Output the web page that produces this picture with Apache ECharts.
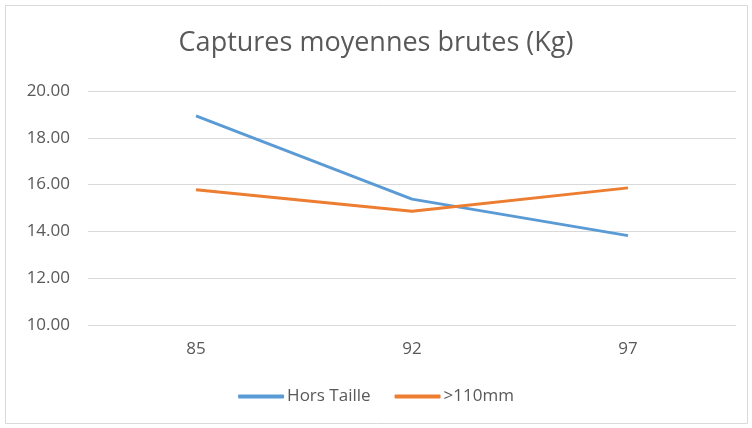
<!DOCTYPE html>
<html>
<head>
<meta charset="utf-8">
<script src="https://cdn.jsdelivr.net/npm/echarts@6/dist/echarts.min.js"></script>
<style>
  html, body { margin: 0; padding: 0; background: #fff; }
  #main { width: 752px; height: 428px; }
</style>
</head>
<body>
<div id="main"></div>
<script>
// données
const categories = ['85', '92', '97'];
const horsTaille = [18.94, 15.38, 13.82];
const plus110 = [15.78, 14.86, 15.86];

let myChart = echarts.init(document.getElementById('main'));
let option = {
  backgroundColor: '#fff',
  textStyle: { fontFamily: 'Open Sans' },
  title: {
    text: 'Captures moyennes brutes (Kg)',
    left: 'center',
    top: 25,
    textStyle: { fontSize: 27, fontWeight: 'normal', color: '#595959', fontFamily: 'Open Sans' }
  },
  graphic: [{
    type: 'rect',
    shape: { x: 5.5, y: 5.5, width: 742, height: 418 },
    style: { fill: 'none', stroke: '#d9d9d9', lineWidth: 1 },
    silent: true
  }],
  legend: {
    bottom: 18,
    left: 'center',
    itemWidth: 46,
    itemHeight: 4,
    itemGap: 24,
    icon: 'roundRect',
    textStyle: { fontSize: 17, color: '#595959', fontFamily: 'Open Sans', padding: [0, 0, 0, -2] },
    data: ['Hors Taille', '>110mm']
  },
  grid: { left: 88, right: 16, top: 91, bottom: 103 },
  xAxis: {
    type: 'category',
    data: categories,
    boundaryGap: true,
    axisLine: { show: false },
    axisTick: { show: false },
    axisLabel: { fontSize: 17, color: '#595959', margin: 16 }
  },
  yAxis: {
    type: 'value',
    min: 10,
    max: 20,
    interval: 2,
    axisLine: { show: false },
    axisTick: { show: false },
    splitLine: { lineStyle: { color: '#d9d9d9', width: 1 } },
    axisLabel: {
      fontSize: 17,
      color: '#595959',
      margin: 18,
      formatter: v => v.toFixed(2)
    }
  },
  series: [
    {
      name: 'Hors Taille',
      type: 'line',
      data: horsTaille,
      symbol: 'none',
      color: '#5b9bd5',
      lineStyle: { width: 3, color: '#5b9bd5' }
    },
    {
      name: '>110mm',
      type: 'line',
      data: plus110,
      symbol: 'none',
      color: '#ed7d31',
      lineStyle: { width: 3, color: '#ed7d31' }
    }
  ]
};
myChart.setOption(option);
</script>
</body>
</html>
